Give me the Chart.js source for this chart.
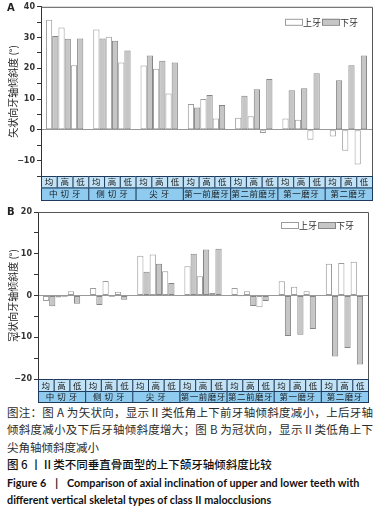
<!DOCTYPE html>
<html>
<head>
<meta charset="utf-8">
<script src="https://cdn.jsdelivr.net/npm/chart.js@4/dist/chart.umd.min.js"></script>
<style>
  body { margin: 0; background: #fff; width: 380px; height: 512px; overflow: hidden; position: relative; font-family: 'Noto Sans CJK SC', sans-serif; }
  .wrap { position: absolute; left: 0; width: 380px; }
  #wrapA { top: 0; height: 201px; }
  #wrapB { top: 203px; height: 200px; }
  .tag { position: absolute; left: 7px; font: bold 10px 'DejaVu Sans', sans-serif; color: #222; }
  .cap { position: absolute; left: 7px; width: 366px; font-size: 11.5px; line-height: 17.4px; color: #2c2c2c; white-space: nowrap; }
  .cap div.full { text-align: justify; text-align-last: justify; }
  .cap .t { color: #111; font-weight: 500; }
  .cap .en { font-family: Lato, sans-serif; font-weight: bold; color: #111; font-size: 10.8px; }
  .cap .sp { display: inline-block; width: 9px; }
</style>
</head>
<body>
<div class="wrap" id="wrapA"><canvas id="chartA" width="380" height="201"></canvas></div>
<div class="wrap" id="wrapB"><canvas id="chartB" width="380" height="200"></canvas></div>
<div class="tag" style="top:2px">A</div>
<div class="tag" style="top:206px">B</div>
<div class="cap" style="top:404px">
  <div class="full">图注：图 A 为矢状向，显示Ⅱ类低角上下前牙轴倾斜度减小，上后牙轴</div>
  <div class="full">倾斜度减小及下后牙轴倾斜度增大；图 B 为冠状向，显示Ⅱ类低角上下</div>
  <div>尖角轴倾斜度减小</div>
  <div class="t">图 6 丨Ⅱ类不同垂直骨面型的上下颌牙轴倾斜度比较</div>
  <div class="en">Figure 6<span class="sp"></span>|<span class="sp"></span>Comparison of axial inclination of upper and lower teeth with</div>
  <div class="en">different vertical skeletal types of class II malocclusions</div>
</div>

<script>
// --- データ ---
const groups = ['中切牙', '侧切牙', '尖牙', '第一前磨牙', '第二前磨牙', '第一磨牙', '第二磨牙'];
const types = ['均', '高', '低'];
const seriesNames = ['上牙', '下牙'];

// 每组按 均 / 高 / 低 顺序
const upperA = [35.8, 33.3, 21.0, 32.6, 30.3, 21.9, 20.9, 19.9, 11.8, 8.4, 10.0, 3.7, 3.9, 4.4, -1.0, 3.7, 3.3, -3.2, -2.2, -6.8, -11.3];
const lowerA = [30.5, 29.6, 29.7, 29.7, 29.0, 25.8, 24.2, 22.5, 21.9, 7.3, 11.3, 8.1, 11.1, 13.2, 16.5, 12.9, 13.5, 18.4, 16.1, 21.0, 24.2];
const upperB = [-1.3, -0.5, 1.0, 1.8, 3.5, 0.9, 9.5, 9.8, 5.8, 7.0, 4.6, 0.6, 1.8, 1.0, -2.8, 3.4, 2.1, 1.0, 7.6, 7.8, 8.1];
const lowerB = [-2.6, -0.3, -2.0, -2.3, -0.3, -1.0, 5.7, 7.6, 3.0, 10.0, 11.0, 11.2, -0.2, -2.5, -1.3, -9.7, -9.4, -8.0, -14.6, -12.6, -16.5];

const ticksA = { min: -15, max: 40 };
const ticksB = { min: -20, max: 20 };

const UP_FILL = '#ffffff', UP_LINE = '#9c9c9c';
const LOW_FILL = '#c6c6c6', LOW_LINE = '#858585';
const CJK = "'Noto Sans CJK SC', sans-serif";

function makeSets(up, low) {
    const sets = [];
    types.forEach((t, k) => {
        sets.push({ label: seriesNames[0], data: groups.map((g, i) => up[i * 3 + k]),
            backgroundColor: UP_FILL, borderColor: UP_LINE });
        sets.push({ label: seriesNames[1], data: groups.map((g, i) => low[i * 3 + k]),
            backgroundColor: LOW_FILL, borderColor: LOW_LINE });
    });
    return sets;
}

// 框线、图例、底部分类表
const tablePlugin = {
    id: 'table',
    afterDraw(chart, args, opts) {
        const { ctx, chartArea: a, scales: { x } } = chart;
        ctx.save();
        ctx.strokeStyle = '#555';
        ctx.lineWidth = 1;
        ctx.beginPath();
        ctx.moveTo(a.left, a.top + 0.5);
        ctx.lineTo(Math.round(a.right) + 0.5, a.top + 0.5);
        ctx.lineTo(Math.round(a.right) + 0.5, a.bottom);
        ctx.stroke();

        // 图例
        let lx = a.right - 87;
        const ly = a.top + opts.legendY;
        ctx.font = '9px ' + CJK;
        ctx.textBaseline = 'middle';
        ctx.textAlign = 'left';
        [[UP_FILL, UP_LINE], [LOW_FILL, LOW_LINE]].forEach((c, i) => {
            ctx.fillStyle = c[0];
            ctx.fillRect(lx, ly - 3, 17, 6);
            ctx.strokeStyle = c[1];
            ctx.strokeRect(lx + 0.5, ly - 2.5, 17, 6);
            ctx.fillStyle = '#333';
            ctx.fillText(seriesNames[i], lx + 18, ly + 0.5);
            lx += 37;
        });

        // 表格
        const step = x.getPixelForValue(1) - x.getPixelForValue(0);
        const y0 = a.bottom, y1 = y0 + opts.row1, y2 = y1 + opts.row2;
        ctx.strokeStyle = '#1e3a5c';
        groups.forEach((g, i) => {
            const gl = x.getPixelForValue(i) - step / 2;
            types.forEach((t, k) => {
                const cl = gl + k * step / 3;
                ctx.fillStyle = '#c2e2f6';
                ctx.fillRect(cl, y0, step / 3, y1 - y0);
                ctx.strokeRect(cl + 0.5, y0 + 0.5, step / 3, y1 - y0);
                ctx.fillStyle = '#1a1a1a';
                ctx.textAlign = 'center';
                ctx.font = '8.5px ' + CJK;
                ctx.fillText(t, cl + step / 6, (y0 + y1) / 2 + 0.5);
            });
            ctx.fillStyle = '#8ecbef';
            ctx.fillRect(gl, y1, step, y2 - y1);
            ctx.strokeRect(gl + 0.5, y1 + 0.5, step, y2 - y1);
            ctx.fillStyle = '#1a1a1a';
            ctx.font = '8.5px ' + CJK;
            ctx.letterSpacing = g.length <= 3 ? '3px' : '0.5px';
            ctx.fillText(g, gl + step / 2 + (g.length <= 3 ? 1.5 : 0.25), (y1 + y2) / 2 + 0.5);
            ctx.letterSpacing = '0px';
        });
        ctx.restore();
    }
};

function buildChart(id, up, low, range, title, pad, yWidth, row1, row2, legendY) {
    return new Chart(document.getElementById(id), {
        type: 'bar',
        data: { labels: groups, datasets: makeSets(up, low) },
        options: {
            responsive: false,
            animation: false,
            devicePixelRatio: 1,
            layout: { padding: pad },
            datasets: { bar: { categoryPercentage: 0.79, barPercentage: 1.0, borderWidth: 1, borderSkipped: false } },
            plugins: {
                legend: { display: false },
                tooltip: { enabled: false },
                table: { row1: row1, row2: row2, legendY: legendY }
            },
            scales: {
                x: {
                    ticks: { display: false },
                    grid: { display: false, drawTicks: false },
                    border: { display: false },
                    afterFit(ax) { ax.height = row1 + row2; }
                },
                y: {
                    min: range.min,
                    max: range.max,
                    ticks: {
                        stepSize: 5,
                        autoSkip: false,
                        padding: 2,
                        color: '#333',
                        font: { family: 'DejaVu Sans', size: 8, weight: 'bold' },
                        callback: v => v % 10 === 0 ? (v < 0 ? '\u2212' + (-v) : String(v)) : ''
                    },
                    grid: {
                        drawOnChartArea: true,
                        color: c => c.tick && c.tick.value === 0 ? '#999' : 'rgba(0,0,0,0)',
                        tickColor: '#333',
                        tickLength: 4
                    },
                    border: { color: '#333', width: 1 },
                    title: {
                        display: true,
                        text: title,
                        color: '#222',
                        font: { family: 'Noto Sans CJK SC', size: 10 },
                        padding: { top: 7, bottom: 0 }
                    },
                    afterFit(ax) { ax.width = yWidth; }
                }
            }
        },
        plugins: [tablePlugin]
    });
}

buildChart('chartA', upperA, lowerA, ticksA, '矢状向牙轴倾斜度 (°)',
    { top: 5, right: 8, bottom: 1, left: 0 }, 41, 11.5, 12.5, 15);
buildChart('chartB', upperB, lowerB, ticksB, '冠状向牙轴倾斜度 (°)',
    { top: 9, right: 12, bottom: 1, left: 0 }, 38, 12, 11, 13);
</script>
</body>
</html>
